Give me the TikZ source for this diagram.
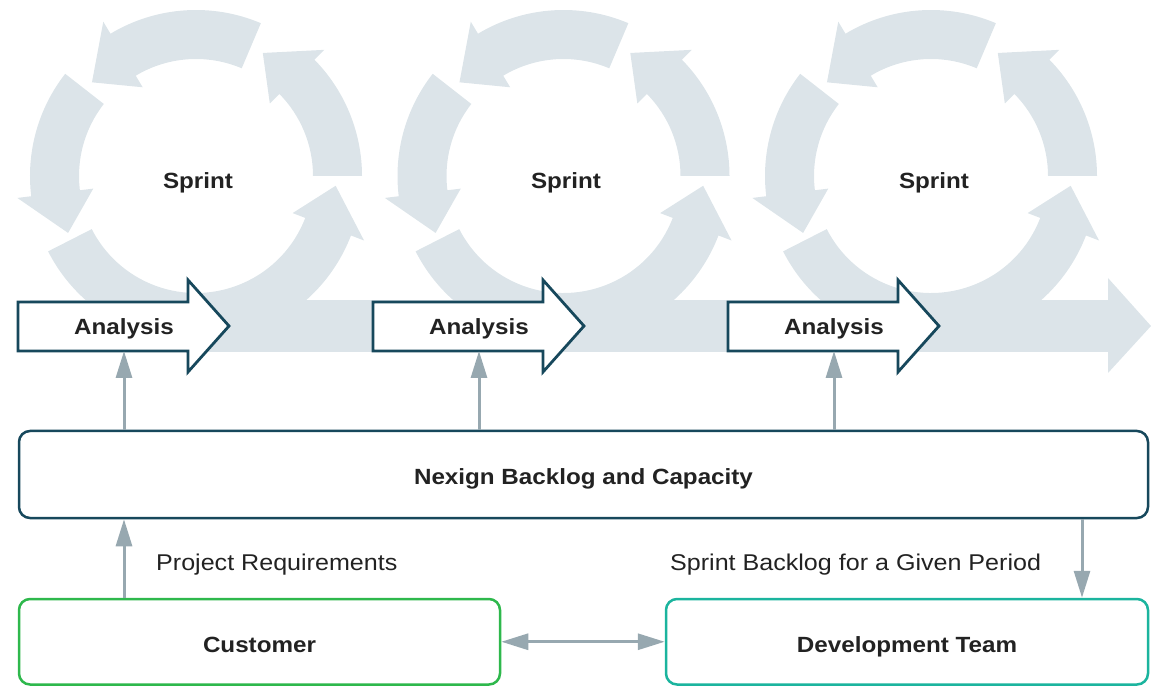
\documentclass[tikz,border=0pt]{standalone}
\usepackage{fontspec}
\setmainfont{Liberation Sans}[FakeStretch=1.1]
\usetikzlibrary{arrows.meta,calc}
\definecolor{bandgrey}{HTML}{DCE4E9}
\definecolor{darkteal}{HTML}{17485C}
\definecolor{linegrey}{HTML}{97A8B0}
\definecolor{custgreen}{HTML}{2EB84C}
\definecolor{devteal}{HTML}{1BB49E}
\definecolor{txt}{HTML}{222222}
\newcommand\cycseg[3]{% center, start angle, head-base angle
  \fill[bandgrey] ($(#1)+(#2:166pt)$) arc[start angle=#2, end angle=#3, radius=166pt]
    -- ($(#1)+(#3:180pt)$) -- ($(#1)+({#3+17}:140pt)$) -- ($(#1)+(#3:103.5pt)$)
    -- ($(#1)+(#3:117pt)$) arc[start angle=#3, end angle=#2, radius=117pt] -- cycle;}
\newcommand\sprintcycle[2]{% x of centre, name
  \coordinate (#2) at (#1,510);
  \cycseg{#2}{207}{339}
  \cycseg{#2}{0}{44.5}
  \cycseg{#2}{67}{121}
  \cycseg{#2}{142}{187}}
\newcommand\analysisarrow[2]{% left x, name
  \filldraw[anabox] (#1,335) -- ++(170,0) -- ++(0,-21) -- ++(41,46) -- ++(-41,46)
    -- ++(0,-22) -- ++(-170,0) -- cycle;
  \node[boldlab] (#2) at ({#1+106},357) {Analysis};
  \coordinate (#2b) at ({#1+106},335);}
\begin{document}
\begin{tikzpicture}[x=1pt,y=1pt,
  boldlab/.style={font=\fontsize{22}{26}\selectfont\bfseries, text=txt, inner sep=0pt},
  reglab/.style={font=\fontsize{22.8}{27}\selectfont, text=txt, inner sep=0pt},
  anabox/.style={fill=white, draw=darkteal, line width=2.8pt, line join=miter},
  rbox/.style={draw, rounded corners=11pt, line width=2.5pt, fill=white,
    font=\fontsize{22}{26}\selectfont\bfseries, text=txt, text height=21pt, text depth=0pt},
  conn/.style={draw=linegrey, line width=3pt, -{Triangle[length=27pt,width=16pt]}},
  conn2/.style={draw=linegrey, line width=3pt, {Triangle[length=27pt,width=16pt]}-{Triangle[length=27pt,width=16pt]}}]
\useasboundingbox (0,0) rectangle (1151,686);
% sprint cycles and flow band
\sprintcycle{196}{c1}
\sprintcycle{563.5}{c2}
\sprintcycle{931}{c3}
\fill[bandgrey] (30,334) rectangle (1108,386);
\fill[bandgrey] (1108,408) -- (1151,360) -- (1108,313) -- cycle;
\node[boldlab] (sp1) at (198,503) {Sprint};
\node[boldlab] (sp2) at (566,503) {Sprint};
\node[boldlab] (sp3) at (934,503) {Sprint};
% analysis arrows
\analysisarrow{18}{an1}
\analysisarrow{373}{an2}
\analysisarrow{728}{an3}
% boxes
\node[rbox, draw=darkteal, minimum width=1129pt, minimum height=87pt] (nx) at (583.5,211.5) {Nexign Backlog and Capacity};
\node[rbox, draw=custgreen, minimum width=481pt, minimum height=85.5pt] (cust) at (259.5,44.25) {Customer};
\node[rbox, draw=devteal, minimum width=482pt, minimum height=85.5pt] (dev) at (907,44.25) {Development Team};
% connectors
\draw[conn] (nx.north -| an1b) -- (an1b);
\draw[conn] (nx.north -| an2b) -- (an2b);
\draw[conn] (nx.north -| an3b) -- (an3b);
\draw[conn] (cust.north -| an1b) -- (nx.south -| an1b);
\coordinate (dx) at (1082,0);
\draw[conn] (nx.south -| dx) -- (dev.north -| dx);
\draw[conn2] (cust.east) -- (dev.west);
% labels
\node[reglab, anchor=west] (lreq) at (156,121) {Project Requirements};
\node[reglab, anchor=west] (lsb) at (670,121) {Sprint Backlog for a Given Period};
\end{tikzpicture}
\end{document}
